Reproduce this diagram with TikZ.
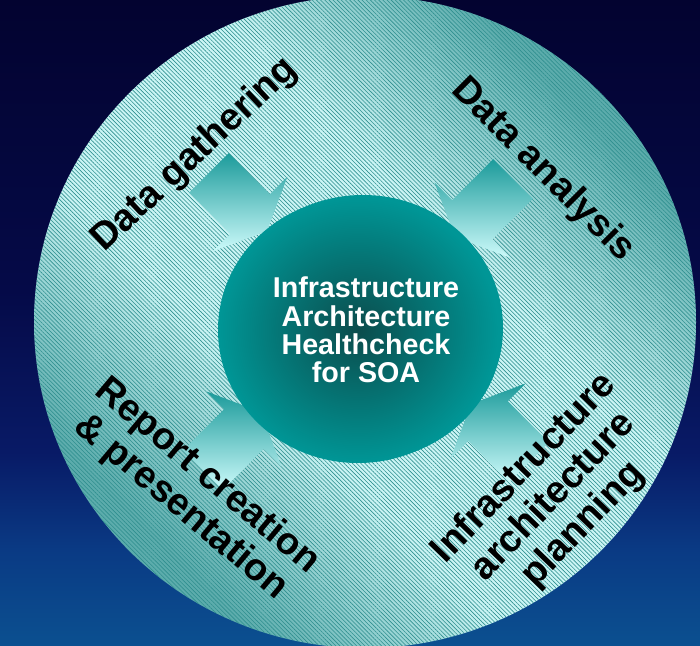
\documentclass[tikz,border=0pt]{standalone}
\usepackage{fontspec}
\setmainfont{Liberation Sans}
\usetikzlibrary{patterns.meta}
\definecolor{bgtop}{HTML}{030330}
\definecolor{bgdeep}{HTML}{050A48}
\definecolor{bgmid}{HTML}{081A66}
\definecolor{bglow}{HTML}{0A3A84}
\definecolor{bgbot}{HTML}{0B5090}
\definecolor{disclight}{HTML}{CBF5F5}
\definecolor{discdark}{HTML}{5CACAC}
\definecolor{hatch}{HTML}{2F8F8F}
\definecolor{arrtop}{HTML}{1C9B9B}
\definecolor{arrbot}{HTML}{CCFAFA}
\definecolor{hubteal}{HTML}{009696}
\definecolor{hubdark}{HTML}{0B4C4C}
\pgfdeclareverticalshading{nightsky}{100bp}{color(0bp)=(bgbot); color(25bp)=(bgbot); color(32.5bp)=(bglow); color(40bp)=(bgmid); color(52.5bp)=(bgdeep); color(75bp)=(bgtop); color(100bp)=(bgtop)}
\pgfdeclareverticalshading{discband}{100bp}{color(0bp)=(discdark); color(27bp)=(discdark); color(41bp)=(disclight); color(59bp)=(disclight); color(73bp)=(discdark); color(100bp)=(discdark)}
\newcommand\flowarrow[3]{%
  \begin{scope}[shift={#2},rotate=#3]
    \coordinate (#1-tip) at (24,0);
    \coordinate (#1-b1) at (0,53);
    \coordinate (#1-s1) at (0,28);
    \coordinate (#1-t1) at (-58,28);
    \coordinate (#1-t2) at (-58,-28);
    \coordinate (#1-s2) at (0,-28);
    \coordinate (#1-b2) at (0,-53);
  \end{scope}
  \shade[flow] (#1-tip) -- (#1-b1) -- (#1-s1) -- (#1-t1) -- (#1-t2) -- (#1-s2) -- (#1-b2) -- cycle;}
\begin{document}
\begin{tikzpicture}[x=0.75pt,y=-0.75pt,
  phase/.style={font=\bfseries\fontsize{28.5}{30.5}\selectfont,align=center,text=black,inner sep=0pt},
  hub/.style={font=\bfseries\fontsize{21.5}{21.3}\selectfont,align=center,text=white,inner sep=0pt},
  flow/.style={top color=arrtop,bottom color=arrbot}]
\useasboundingbox (0,0) rectangle (700,646);
\shade[shading=nightsky] (0,0) rectangle (700,646);
\shade[shading=discband,shading angle=-45] (365,322) ellipse [x radius=331,y radius=326];
\fill[pattern={Lines[angle=-45,distance=2.2pt,line width=0.45pt]},pattern color=hatch,fill opacity=.28] (365,322) ellipse [x radius=331,y radius=326];
\flowarrow{gatherarr}{(250,214)}{-45}
\flowarrow{analysisarr}{(472,220)}{-135}
\flowarrow{reportarr}{(244,429)}{45}
\flowarrow{planarr}{(488,421)}{135}
\fill[hubteal] (363,328) ellipse [x radius=140,y radius=133];
\shade[inner color=hubdark,outer color=hubteal] (358,330) ellipse [x radius=140,y radius=133];
\node[hub] (hc) at (366,330) {Infrastructure\\Architecture\\Healthcheck\\for SOA};
\node[phase,rotate=43] (gather) at (195,155) {Data gathering};
\node[phase,rotate=-45] (analysis) at (543,170) {Data analysis};
\node[phase,rotate=-40] (report) at (194,492) {Report creation\\\& presentation};
\node[phase,rotate=46] (planning) at (554,497) {Infrastructure\\architecture\\planning};
\end{tikzpicture}
\end{document}
